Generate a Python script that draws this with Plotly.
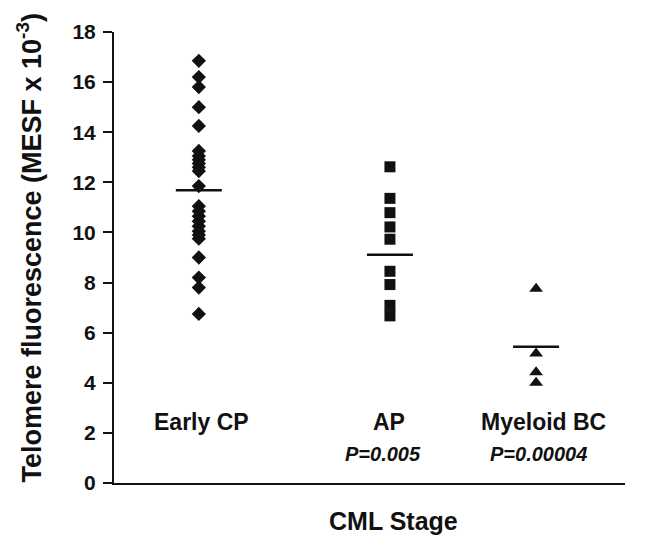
import plotly.graph_objects as go

categories = ["Early CP", "AP", "Myeloid BC"]
early_cp = [16.85, 16.2, 15.8, 15.0, 14.25, 13.25, 13.05, 12.9, 12.75, 12.6, 12.45,
            11.85, 11.05, 10.85, 10.65, 10.45, 10.25, 10.05, 9.9, 9.75, 9.0, 8.2, 7.8, 6.75]
ap = [12.62, 11.36, 10.79, 10.22, 9.73, 8.45, 7.92, 7.09, 6.67]
myeloid_bc = [7.75, 5.17, 4.42, 4.0]
means = [11.68, 9.11, 5.44]
p_values = ["", "P=0.005", "P=0.00004"]
y_ticks = [0, 2, 4, 6, 8, 10, 12, 14, 16, 18]

series = [early_cp, ap, myeloid_bc]
symbols = ["diamond", "square", "triangle-up"]
sizes = [11, 11, 12]
# layout positions (x axis 0..10)
xpos = {"Early CP": 1.66, "AP": 5.40, "Myeloid BC": 8.26}
label_x = {"Early CP": 1.71, "AP": 5.38, "Myeloid BC": 8.40}
p_x = {"Early CP": 1.66, "AP": 5.26, "Myeloid BC": 8.30}
FONT = "Liberation Sans, Arial, sans-serif"
INK = "#111111"

fig = go.Figure()
for cat, vals, sym, sz in zip(categories, series, symbols, sizes):
    fig.add_trace(go.Scatter(
        x=[xpos[cat]] * len(vals), y=vals, mode="markers",
        marker=dict(symbol=sym, size=sz, color=INK, line=dict(width=0)),
        showlegend=False, hoverinfo="y"))

for cat, m in zip(categories, means):
    fig.add_trace(go.Scatter(
        x=[xpos[cat] - 0.45, xpos[cat] + 0.45], y=[m, m], mode="lines",
        line=dict(color=INK, width=2.5), showlegend=False, hoverinfo="skip"))

for cat, p in zip(categories, p_values):
    fig.add_annotation(x=label_x[cat], y=2.42, text="<b>%s</b>" % cat, showarrow=False,
                       xref="x", yref="y", font=dict(family=FONT, size=23, color=INK))
    if p:
        fig.add_annotation(x=p_x[cat], y=1.17, text="<b><i>%s</i></b>" % p, showarrow=False,
                           xref="x", yref="y", font=dict(family=FONT, size=20, color=INK))

# axis titles as annotations
fig.add_annotation(x=5.47, y=-(521 - 483) / 454, xref="x", yref="paper", text="<b>CML Stage</b>",
                   showarrow=False, yanchor="middle",
                   font=dict(family=FONT, size=25, color=INK))
fig.add_annotation(x=-85 / 511, y=(483 - 247) / 454, xref="paper", yref="paper",
                   text="<b>Telomere fluorescence (MESF x 10<sup>-3</sup>)</b>",
                   textangle=-90, showarrow=False, xanchor="center", yanchor="middle",
                   font=dict(family=FONT, size=27, color=INK))

fig.update_layout(
    width=645, height=530,
    margin=dict(l=106, r=28, t=21, b=55),
    paper_bgcolor="white", plot_bgcolor="white",
    font=dict(family=FONT, color=INK),
    xaxis=dict(range=[0, 10], showgrid=False, zeroline=False, showticklabels=False,
               ticks="", showline=True, linecolor=INK, linewidth=2),
    yaxis=dict(range=[0, 18], tickvals=y_ticks, ticktext=[str(v) for v in y_ticks],
               showgrid=False, zeroline=False, showline=True, linecolor=INK, linewidth=2,
               ticks="outside", ticklen=9, tickwidth=1.5, tickcolor=INK,
               ticklabelstandoff=3,
               tickfont=dict(family=FONT, size=21, color=INK, weight="bold")),
)
fig.write_html("out.html")
